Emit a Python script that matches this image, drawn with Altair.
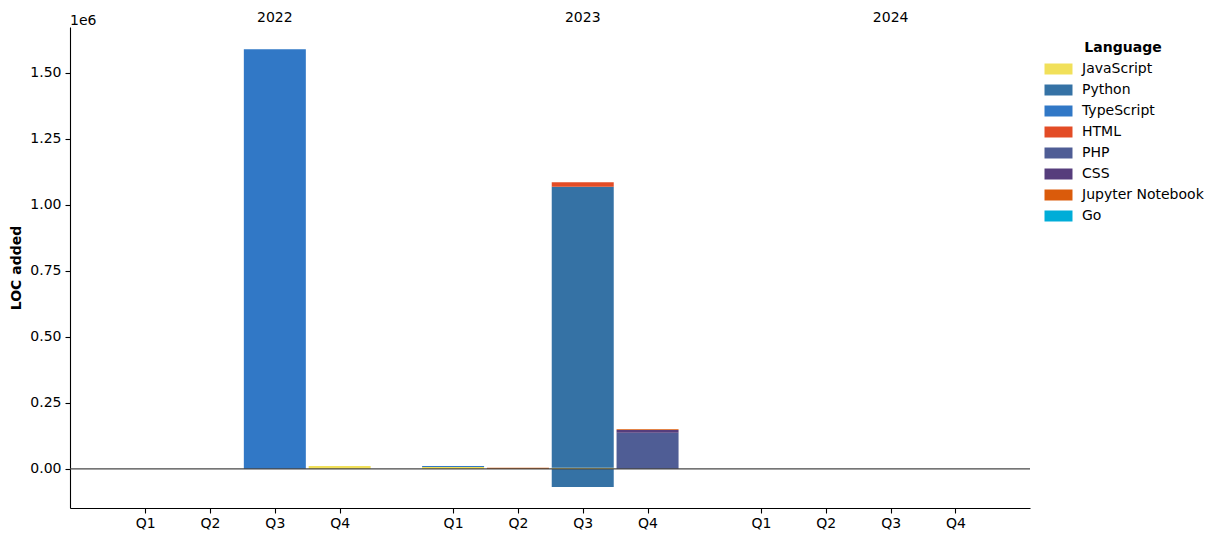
import altair as alt
import pandas as pd

# ---- data ----
years = ["2022", "2023", "2024"]
quarters = ["Q1", "Q2", "Q3", "Q4"]
languages = ["JavaScript", "Python", "TypeScript", "HTML", "PHP", "CSS",
             "Jupyter Notebook", "Go"]
lang_colors = ["#f1e05a", "#3572A5", "#3178c6", "#e34c26", "#4F5D95", "#563d7c",
               "#DA5B0B", "#00ADD8"]

bar_year = ["2022", "2022", "2023", "2023", "2023", "2023", "2023", "2023",
            "2023", "2023", "2023", "2023"]
bar_quarter = ["Q3", "Q4", "Q1", "Q1", "Q2", "Q3", "Q3", "Q3", "Q3",
               "Q4", "Q4", "Q4"]
bar_language = ["TypeScript", "JavaScript", "JavaScript", "TypeScript",
                "Jupyter Notebook", "JavaScript", "Python", "HTML", "Python",
                "PHP", "CSS", "Jupyter Notebook"]
bar_loc = [1590000, 11000, 7500, 3500, 4000, 4000, 1065000, 17000, -68000,
           137000, 10000, 3000]

y_ticks = [0, 250000, 500000, 750000, 1000000, 1250000, 1500000]

YEAR_STEP = 4.75  # gap between year groups, in quarter units

df = pd.DataFrame({"year": bar_year, "quarter": bar_quarter,
                   "language": bar_language, "loc": bar_loc})
df["pos"] = df["year"].map(years.index) * YEAR_STEP + df["quarter"].map(quarters.index)
df["order"] = df["language"].map(languages.index)
pos_df = df[df["loc"] >= 0]
neg_df = df[df["loc"] < 0]

tick_pos = [yi * YEAR_STEP + qi for yi in range(len(years)) for qi in range(len(quarters))]
year_df = pd.DataFrame({"year": years,
                        "pos": [yi * YEAR_STEP + 2 for yi in range(len(years))]})
zero_df = pd.DataFrame({"loc": [0]})

FONT = "DejaVu Sans"
FS = 14

def X():
    return alt.X("pos:Q",
                 scale=alt.Scale(domain=[-1.16, 13.65], nice=False, zero=False,
                                 padding=0),
                 axis=alt.Axis(values=tick_pos, title=None, grid=False,
                               labelExpr="'Q' + (round(datum.value % 4.75) + 1)",
                               labelOverlap=False, labelFlush=False,
                               labelPadding=3))

def Y(stack="zero"):
    kw = {}
    if stack:
        kw["stack"] = stack
    return alt.Y("loc:Q",
                 scale=alt.Scale(domain=[-148000, 1674000], nice=False, padding=0),
                 axis=alt.Axis(values=y_ticks, title="LOC added", grid=False,
                               labelExpr="format(datum.value / 1000000, '.2f')",
                               labelOverlap=False, labelFlush=False,
                               labelPadding=4, titlePadding=6),
                 **kw)

color = alt.Color("language:N",
                  scale=alt.Scale(domain=languages, range=lang_colors),
                  legend=alt.Legend(
                      title="Language", orient="none", legendX=973, legendY=14,
                      titleFontWeight="bold", titleFontSize=FS, titleFont=FONT,
                      titleColor="black", titleAnchor="middle", titleAlign="center",
                      titlePadding=7,
                      labelFontSize=FS, labelFont=FONT, labelColor="black",
                      symbolType="M-1,-1L4.09,-1L4.09,1L-1,1Z", symbolSize=121,
                      symbolStrokeWidth=0, symbolOpacity=1,
                      labelOffset=25, rowPadding=7, padding=0))

bars_pos = alt.Chart(pos_df).mark_bar(size=62).encode(
    x=X(), y=Y(), color=color, order=alt.Order("order:Q", sort="ascending"))
bars_neg = alt.Chart(neg_df).mark_bar(size=62).encode(
    x=X(), y=Y(), color=color, order=alt.Order("order:Q", sort="ascending"))

zero = alt.Chart(zero_df).mark_rule(color="#474747", strokeWidth=1.2).encode(y=Y(stack=None))

year_text = alt.Chart(year_df).mark_text(font=FONT, fontSize=FS, color="black",
                                         baseline="alphabetic").encode(
    x=X(), y=alt.value(-5.5), text="year:N")

offset_text = alt.Chart(zero_df).mark_text(font=FONT, fontSize=FS, color="black",
                                           align="left", baseline="alphabetic").encode(
    x=alt.value(0), y=alt.value(-2), text=alt.value("1e6"))

chart = alt.layer(bars_pos, bars_neg, zero, year_text, offset_text).properties(
    width=960, height=481,
    autosize=alt.AutoSizeParams(type="none"),
    padding={"left": 62, "top": 19, "right": 179, "bottom": 23},
).configure_view(strokeWidth=0).configure_axis(
    domainColor="black", domainWidth=1.1, tickColor="black", tickSize=5,
    tickWidth=1.1, labelFontSize=FS, labelFont=FONT,
    labelColor="black", titleFont=FONT, titleFontSize=FS, titleFontWeight="bold",
    titleColor="black",
)

chart.save("out.html", embed_options={"renderer": "svg", "actions": False})
